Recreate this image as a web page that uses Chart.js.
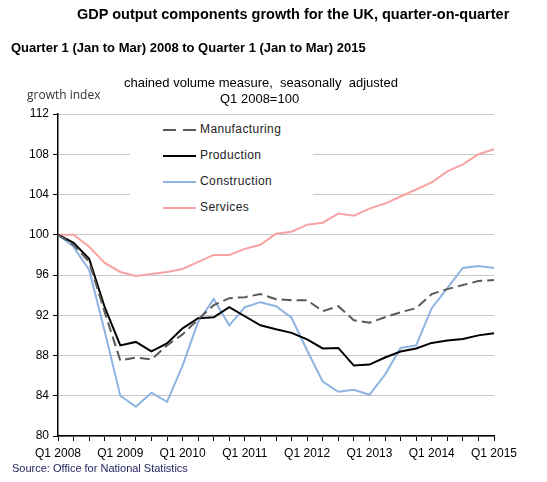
<!DOCTYPE html>
<html>
<head>
<meta charset="utf-8">
<script src="https://cdn.jsdelivr.net/npm/chart.js@4/dist/chart.umd.min.js"></script>
<style>
  html, body { margin:0; padding:0; background:#fff; }
  #wrap { position:relative; width:547px; height:482px; overflow:hidden; font-family:"Liberation Sans", Arial, sans-serif; color:#000; }
  #c { position:absolute; left:0; top:0; }
  .t { position:absolute; white-space:nowrap; }
  #legend { position:absolute; left:130px; top:118px; width:183px; height:102px; background:#fff; }
  .lrow { position:absolute; left:33px; height:14px; }
  .lrow svg { position:absolute; left:0; top:0; }
  .lrow span { position:absolute; left:37px; top:-1px; font-size:12px; letter-spacing:0.4px; color:#222; }
</style>
</head>
<body>
<div id="wrap">
  <canvas id="c" width="547" height="482"></canvas>
  <div class="t" style="left:77px; top:6px; font-size:14.5px; font-weight:bold;">GDP output components growth for the UK, quarter-on-quarter</div>
  <div class="t" style="left:11px; top:40px; font-size:13px; font-weight:bold;">Quarter 1 (Jan to Mar) 2008 to Quarter 1 (Jan to Mar) 2015</div>
  <div class="t" style="left:124px; top:75px; font-size:13px;">chained volume measure,&nbsp; seasonally&nbsp; adjusted</div>
  <div class="t" style="left:220px; top:91px; font-size:13px;">Q1 2008=100</div>
  <div class="t" style="left:27px; top:86px; font-size:12px; font-family:'Open Sans',sans-serif; color:#333;">growth index</div>
  <div class="t" style="left:12px; top:462px; font-size:11px; color:#1f1f5f;">Source: Office for National Statistics</div>
  <div id="legend"></div>
</div>
<script>
const categories = ["Q1 2008","Q2 2008","Q3 2008","Q4 2008",
  "Q1 2009","Q2 2009","Q3 2009","Q4 2009",
  "Q1 2010","Q2 2010","Q3 2010","Q4 2010",
  "Q1 2011","Q2 2011","Q3 2011","Q4 2011",
  "Q1 2012","Q2 2012","Q3 2012","Q4 2012",
  "Q1 2013","Q2 2013","Q3 2013","Q4 2013",
  "Q1 2014","Q2 2014","Q3 2014","Q4 2014",
  "Q1 2015"];
const manufacturing = [100, 99.0, 97.3, 92.3, 87.5, 87.8, 87.6, 89.0, 90.1, 91.6, 93.0, 93.7, 93.8, 94.1, 93.6, 93.5,
  93.5, 92.4, 92.9, 91.5, 91.25, 91.8, 92.3, 92.7, 94.1, 94.6, 95.0, 95.4, 95.5];
const production = [100, 99.2, 97.6, 92.8, 89.0, 89.35, 88.4, 89.2, 90.7, 91.7, 91.8, 92.8, 91.9, 91.0, 90.6, 90.25,
  89.6, 88.7, 88.75, 87.0, 87.1, 87.8, 88.4, 88.7, 89.25, 89.5, 89.65, 90.0, 90.2];
const construction = [100, 98.8, 96.5, 90.4, 84.0, 82.9, 84.3, 83.4, 87.0, 91.35, 93.6, 91.0, 92.8, 93.3, 92.9, 91.75,
  88.5, 85.4, 84.4, 84.6, 84.1, 86.1, 88.75, 89.0, 92.7, 94.7, 96.7, 96.9, 96.7];
const services = [100, 100, 98.8, 97.2, 96.3, 95.9, 96.1, 96.3, 96.6, 97.3, 98.0, 98.0, 98.6, 99.0, 100.1, 100.3,
  101.0, 101.2, 102.1, 101.9, 102.6, 103.1, 103.8, 104.5, 105.2, 106.3, 107.0, 108.0, 108.5];
const yTicks = [80, 84, 88, 92, 96, 100, 104, 108, 112];

const seriesStyle = [
  {label:"Manufacturing", data:manufacturing, color:"#595959", dash:[10,5], width:2},
  {label:"Production", data:production, color:"#000000", dash:[], width:2},
  {label:"Construction", data:construction, color:"#8DB4E2", dash:[], width:2},
  {label:"Services", data:services, color:"#F7A3A3", dash:[], width:2}
];

// HTML legend
const legend = document.getElementById('legend');
seriesStyle.forEach((s, i) => {
  const row = document.createElement('div');
  row.className = 'lrow';
  row.style.top = (5 + i * 26) + 'px';
  row.innerHTML = '<svg width="34" height="14"><line x1="0" y1="7" x2="33" y2="7" stroke="' + s.color +
    '" stroke-width="' + s.width + '" stroke-dasharray="' + (s.dash.length ? '13,7' : 'none') + '"/></svg><span>' + s.label + '</span>';
  legend.appendChild(row);
});

new Chart(document.getElementById('c'), {
  type: 'line',
  data: {
    labels: categories,
    datasets: seriesStyle.map(s => ({
      label: s.label,
      data: s.data,
      borderColor: s.color,
      backgroundColor: s.color,
      borderDash: s.dash,
      borderWidth: s.width,
      pointRadius: 0,
      tension: 0,
      fill: false
    }))
  },
  options: {
    responsive: false,
    animation: false,
    layout: { padding: { left: 0, top: 114, right: 53, bottom: 14 } },
    plugins: { legend: { display: false }, title: { display: false }, tooltip: { enabled: false } },
    scales: {
      x: {
        type: 'category',
        offset: false,
        afterFit: (s) => { s.height = 32; },
        grid: { display: true, drawOnChartArea: false, drawTicks: true, tickLength: 5, color: '#000', tickColor: '#000' },
        border: { display: true, color: '#000', width: 1.5 },
        ticks: {
          autoSkip: false, maxRotation: 0, minRotation: 0, padding: 5,
          color: '#000', font: { family: "'Liberation Sans', Arial, sans-serif", size: 12 },
          callback: function(v, i) { return i % 4 === 0 ? categories[i] : ''; }
        }
      },
      y: {
        min: 80, max: 112,
        afterFit: (s) => { s.width = 58; },
        afterBuildTicks: (s) => { s.ticks = yTicks.map(v => ({ value: v })); },
        grid: { color: '#c8c8c8', lineWidth: 1, drawTicks: true, tickLength: 5, tickColor: '#000' },
        border: { display: true, color: '#000', width: 1.5 },
        ticks: { padding: 4, color: '#000', font: { family: "'Liberation Sans', Arial, sans-serif", size: 12 } }
      }
    }
  }
});
</script>
</body>
</html>
